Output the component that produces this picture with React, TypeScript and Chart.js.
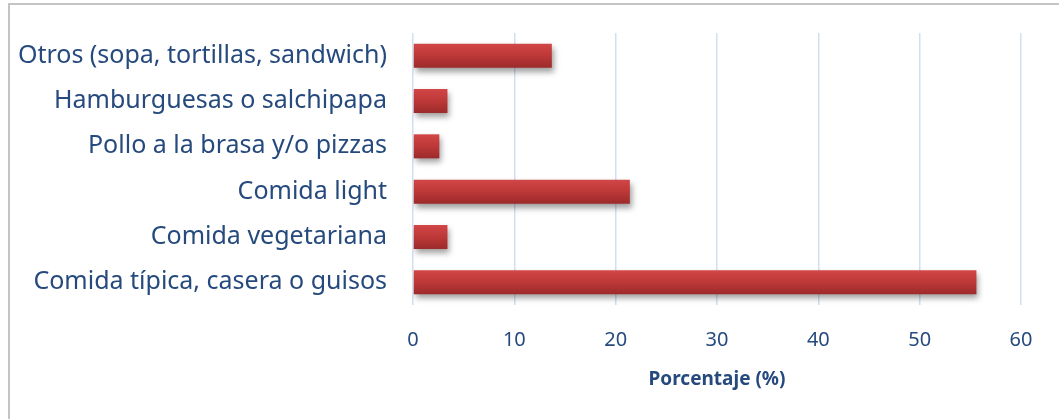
import React, { useEffect, useRef } from "react";
import { Chart, registerables } from "chart.js";

Chart.register(...registerables);

const categories = [
  "Otros (sopa, tortillas, sandwich)",
  "Hamburguesas o salchipapa",
  "Pollo a la brasa y/o pizzas",
  "Comida light",
  "Comida vegetariana",
  "Comida típica, casera o guisos",
];
const percentages = [13.7, 3.4, 2.6, 21.4, 3.4, 55.6];
const xTicks = [0, 10, 20, 30, 40, 50, 60];
const xTitle = "Porcentaje (%)";

const FONT = '"Noto Sans", Calibri, sans-serif';
const TEXT = "#264a7e";
const BAR_PCT = 0.53;

const shadowPlugin = {
  id: "barShadow",
  beforeDatasetsDraw(chart: any) {
    const ctx = chart.ctx;
    ctx.save();
    ctx.shadowColor = "rgba(0,0,0,0.38)";
    ctx.shadowBlur = 6;
    ctx.shadowOffsetX = 2;
    ctx.shadowOffsetY = 4;
  },
  afterDatasetsDraw(chart: any) {
    chart.ctx.restore();
  },
};

export default function App() {
  const ref = useRef<HTMLCanvasElement | null>(null);

  useEffect(() => {
    if (!ref.current) return;
    const chart = new Chart(ref.current, {
      type: "bar",
      data: {
        labels: categories,
        datasets: [
          {
            data: percentages,
            borderWidth: 0,
            barPercentage: BAR_PCT,
            categoryPercentage: 1,
            backgroundColor: (c: any) => {
              const ch = c.chart;
              const ys = ch.scales?.y;
              if (!ys || !ch.chartArea) return "#b83535";
              const center = ys.getPixelForValue(c.dataIndex);
              const half = ((ch.chartArea.bottom - ch.chartArea.top) / categories.length) * BAR_PCT / 2;
              const g = ch.ctx.createLinearGradient(0, center - half, 0, center + half);
              g.addColorStop(0, "#d24646");
              g.addColorStop(0.5, "#bd3838");
              g.addColorStop(1, "#9c2a2a");
              return g;
            },
          },
        ],
      },
      options: {
        indexAxis: "y",
        animation: false,
        responsive: false,
        layout: { padding: { top: 33, right: 38, left: 0, bottom: 0 } },
        plugins: { legend: { display: false }, tooltip: { enabled: false } },
        scales: {
          x: {
            min: 0,
            max: 60,
            afterBuildTicks: (s: any) => {
              s.ticks = xTicks.map((v) => ({ value: v }));
            },
            afterFit: (s: any) => {
              s.height = 114;
            },
            grid: { color: "#d2dff3", lineWidth: 1.5, drawTicks: false },
            border: { display: false },
            ticks: { color: TEXT, font: { family: FONT, size: 20 }, padding: 23 },
            title: {
              display: true,
              text: xTitle,
              color: TEXT,
              font: { family: FONT, size: 19, weight: "bold" },
              padding: { top: 4, bottom: 28 },
            },
          },
          y: {
            afterFit: (s: any) => {
              s.width = 413;
              s.paddingTop = 0;
              s.paddingBottom = 0;
            },
            grid: { display: false, drawTicks: false },
            border: { display: false },
            ticks: { color: TEXT, font: { family: FONT, size: 25 }, padding: 26 },
          },
        },
      },
      plugins: [shadowPlugin],
    });
    return () => chart.destroy();
  }, []);

  return (
    <div style={{ position: "absolute", left: 0, top: 0, width: 1059, height: 419, overflow: "hidden", background: "#fff" }}>
      <div
        style={{
          position: "absolute",
          left: 8,
          top: 3,
          width: 1200,
          height: 600,
          border: "2px solid #c4c4c4",
        }}
      />
      <canvas ref={ref} width={1059} height={419} style={{ position: "absolute", left: 0, top: 0 }} />
    </div>
  );
}
